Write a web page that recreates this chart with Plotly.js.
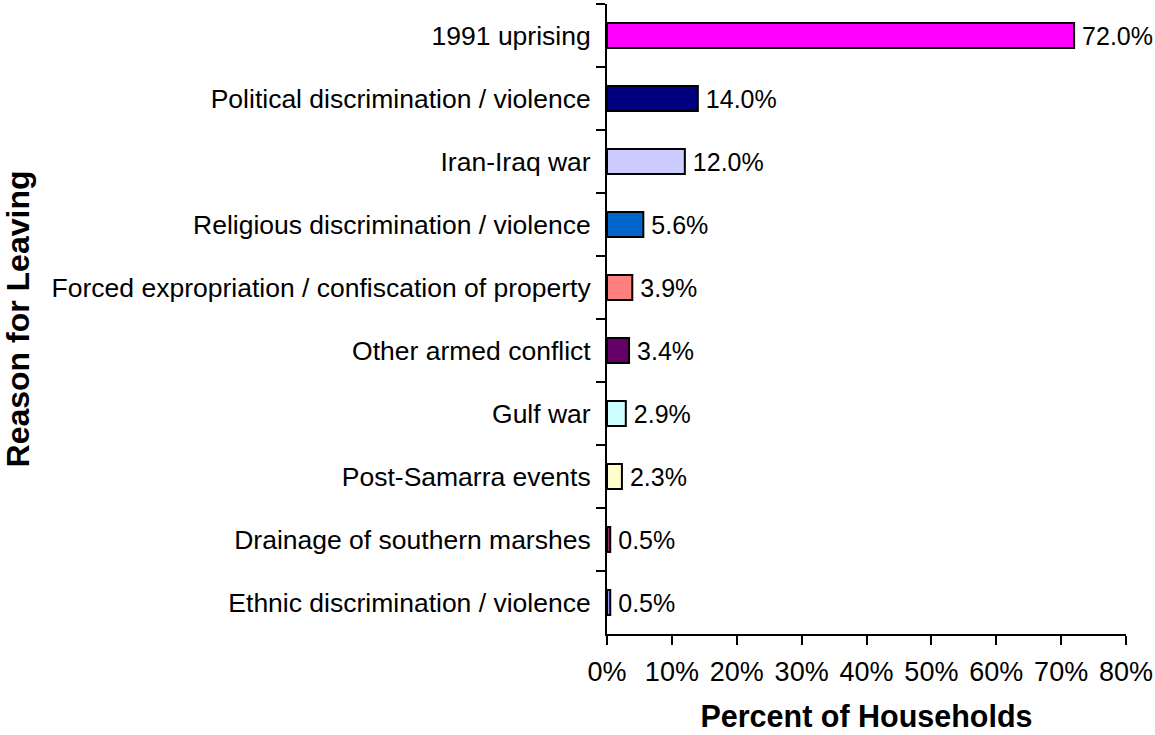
<!DOCTYPE html>
<html>
<head>
<meta charset="utf-8">
<script src="https://cdn.plot.ly/plotly-3.0.1.min.js"></script>
<style>body{margin:0;padding:0;background:#fff}#chart{width:1155px;height:735px}</style>
</head>
<body>
<div id="chart"></div>
<script>
var categories = [
  "1991 uprising",
  "Political discrimination / violence",
  "Iran-Iraq war",
  "Religious discrimination / violence",
  "Forced expropriation / confiscation of property",
  "Other armed conflict",
  "Gulf war",
  "Post-Samarra events",
  "Drainage of southern marshes",
  "Ethnic discrimination / violence"
];
var percentValues = [72.0, 14.0, 12.0, 5.6, 3.9, 3.4, 2.9, 2.3, 0.5, 0.5];
var barColors = ["#FF00FF", "#000080", "#CCCCFF", "#0066CC", "#FF8080", "#660066", "#CCFFFF", "#FFFFCC", "#993366", "#9999FF"];
var xTickVals = [0, 10, 20, 30, 40, 50, 60, 70, 80];
var xTickText = ["0%", "10%", "20%", "30%", "40%", "50%", "60%", "70%", "80%"];

var font = "Arial, 'Liberation Sans', sans-serif";

var trace = {
  type: "bar",
  orientation: "h",
  y: categories,
  x: percentValues,
  width: 0.4,
  marker: {color: barColors, line: {color: "#000", width: 2}},
  text: percentValues.map(function(v){ return "\u2009" + v.toFixed(1) + "%"; }),
  textposition: "outside",
  constraintext: "none",
  textfont: {family: font, size: 25, color: "#000"},
  cliponaxis: false,
  hoverinfo: "none"
};

var layout = {
  width: 1155, height: 735,
  margin: {l: 607, r: 29, t: 4, b: 101},
  paper_bgcolor: "#fff", plot_bgcolor: "#fff",
  showlegend: false,
  font: {family: font, color: "#000"},
  xaxis: {
    range: [0, 80],
    tickvals: xTickVals, ticktext: xTickText,
    ticks: "outside", ticklen: 9, tickwidth: 2, tickcolor: "#000",
    ticklabelstandoff: 4,
    showline: true, linewidth: 2, linecolor: "#000",
    showgrid: false, zeroline: false,
    tickfont: {family: font, size: 27, color: "#000"},
    title: {text: "<b>Percent of Households</b>", font: {family: font, size: 30.5, color: "#000"}, standoff: 19},
    automargin: false
  },
  yaxis: {
    type: "category",
    categoryorder: "array", categoryarray: categories,
    autorange: "reversed",
    ticks: "outside", tickson: "boundaries", ticklen: 9, tickwidth: 2, tickcolor: "#000",
    ticklabelstandoff: 9,
    showline: true, linewidth: 2, linecolor: "#000",
    showgrid: false, zeroline: false,
    tickfont: {family: font, size: 26.5, color: "#000"},
    title: {text: "<b>Reason for Leaving</b>", font: {family: font, size: 32, color: "#000"}, standoff: 14},
    automargin: false
  }
};

Plotly.newPlot("chart", [trace], layout, {displayModeBar: false, staticPlot: true});
</script>
</body>
</html>
